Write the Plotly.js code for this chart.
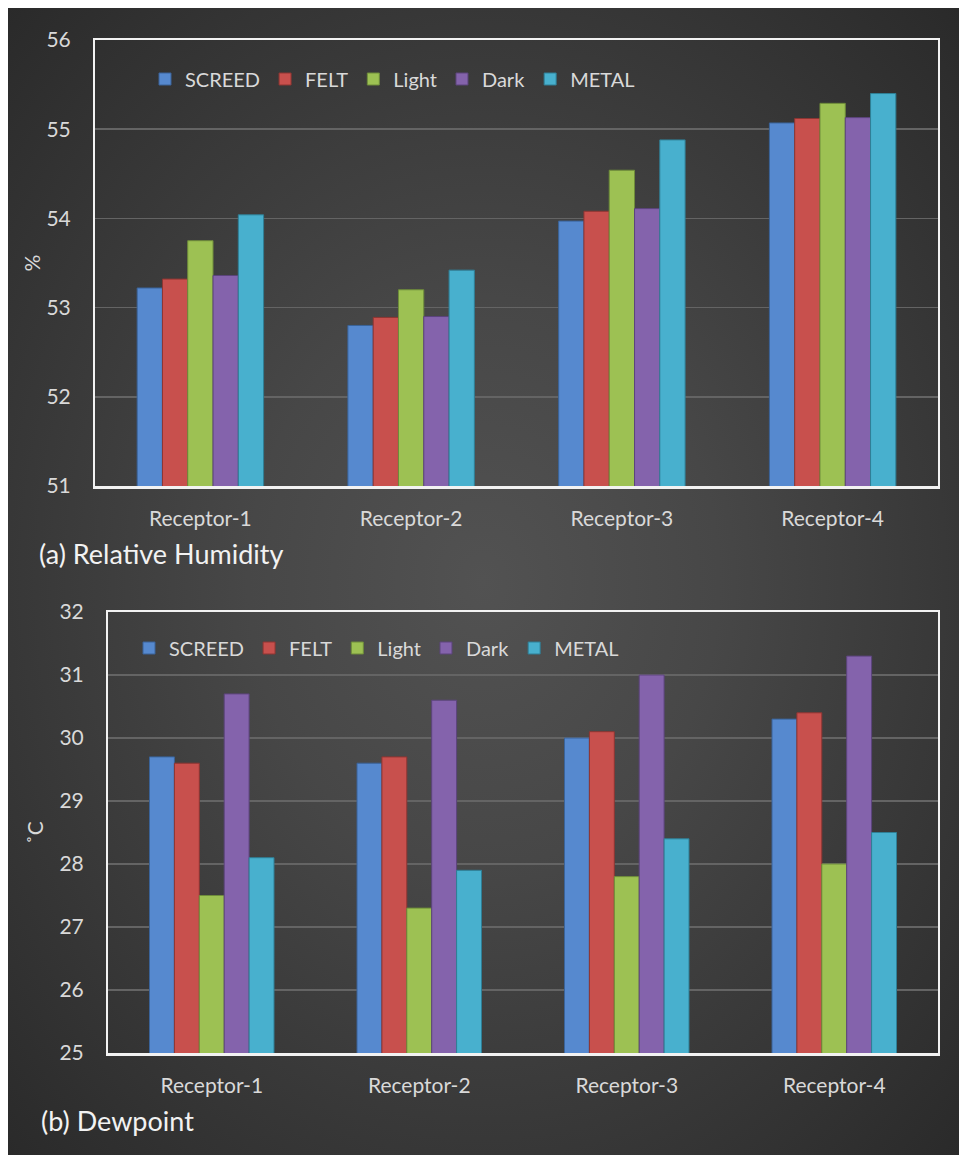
<!DOCTYPE html>
<html>
<head>
<meta charset="utf-8">
<script src="https://cdn.plot.ly/plotly-3.0.1.min.js"></script>
<style>
  html, body { margin: 0; padding: 0; background: #ffffff; }
  #bg { position: absolute; left: 8px; top: 8px; width: 951px; height: 1147px;
        background: radial-gradient(ellipse at 50% 50%, #525252 0%, #474747 35%, #2a2a2a 100%); }
  #chart { position: absolute; left: 0; top: 0; width: 959px; height: 1155px; }
</style>
</head>
<body>
<div id="bg"></div>
<div id="chart"></div>
<script>
// ---- data ----
const categories = ['Receptor-1', 'Receptor-2', 'Receptor-3', 'Receptor-4'];
const seriesNames = ['SCREED', 'FELT', 'Light', 'Dark', 'METAL'];

// (a) Relative Humidity, %
const rhSCREED = [53.22, 52.80, 53.97, 55.07];
const rhFELT   = [53.32, 52.89, 54.08, 55.12];
const rhLight  = [53.75, 53.20, 54.54, 55.29];
const rhDark   = [53.36, 52.90, 54.11, 55.13];
const rhMETAL  = [54.04, 53.42, 54.88, 55.40];

// (b) Dewpoint, °C
const dpSCREED = [29.7, 29.6, 30.0, 30.3];
const dpFELT   = [29.6, 29.7, 30.1, 30.4];
const dpLight  = [27.5, 27.3, 27.8, 28.0];
const dpDark   = [30.7, 30.6, 31.0, 31.3];
const dpMETAL  = [28.1, 27.9, 28.4, 28.5];

const rhTicks = [51, 52, 53, 54, 55, 56];
const dpTicks = [25, 26, 27, 28, 29, 30, 31, 32];

// ---- styles ----
const colors = ['#5689CF', '#C8504D', '#9DC153', '#8463AC', '#48B0CE'];
const edgeColors = ['#3A6399', '#8E3532', '#6E8C3A', '#5C447C', '#2F7F96'];
const FONT = 'Lato, "Open Sans", sans-serif';
const TXT = '#d9d9d9';

const rhSeries = [rhSCREED, rhFELT, rhLight, rhDark, rhMETAL];
const dpSeries = [dpSCREED, dpFELT, dpLight, dpDark, dpMETAL];

const traces = [];
rhSeries.forEach((vals, i) => {
  traces.push({
    type: 'bar', x: categories, y: vals, name: seriesNames[i],
    xaxis: 'x', yaxis: 'y', legend: 'legend',
    marker: { color: colors[i], line: { color: edgeColors[i], width: 1 } },
    hoverinfo: 'x+y+name'
  });
});
dpSeries.forEach((vals, i) => {
  traces.push({
    type: 'bar', x: categories, y: vals, name: seriesNames[i],
    xaxis: 'x2', yaxis: 'y2', legend: 'legend2',
    marker: { color: colors[i], line: { color: edgeColors[i], width: 1 } },
    hoverinfo: 'x+y+name'
  });
});

const W = 959, H = 1155;
const px = v => v / W;
const py = v => 1 - v / H;

const xCommon = {
  type: 'category', showgrid: false, zeroline: false,
  showline: true, linecolor: '#f2f2f2', linewidth: 2.5, mirror: true,
  ticks: '', ticklabelstandoff: 12,
  tickfont: { family: FONT, size: 21, color: TXT }, fixedrange: true
};
const yCommon = {
  showgrid: true, gridcolor: '#646464', gridwidth: 1.5, zeroline: false,
  showline: true, linecolor: '#f2f2f2', linewidth: 2, mirror: true,
  ticks: '', ticklabelstandoff: 18, tickmode: 'array',
  tickfont: { family: FONT, size: 21, color: TXT }, fixedrange: true
};

const layout = {
  width: W, height: H,
  margin: { l: 0, r: 0, t: 0, b: 0 },
  paper_bgcolor: 'rgba(0,0,0,0)', plot_bgcolor: 'rgba(0,0,0,0)',
  barmode: 'group', bargap: 0.4, bargroupgap: 0,
  font: { family: FONT, color: TXT },
  xaxis: Object.assign({}, xCommon, { domain: [px(95), px(938)], anchor: 'y' }),
  yaxis: Object.assign({}, yCommon, {
    domain: [py(486), py(40)], anchor: 'x', range: [51, 56],
    tickvals: rhTicks, ticktext: rhTicks.map(String),
    title: { text: '%', standoff: 0, font: { family: FONT, size: 21, color: TXT } }
  }),
  xaxis2: Object.assign({}, xCommon, { domain: [px(108), px(938)], anchor: 'y2' }),
  yaxis2: Object.assign({}, yCommon, {
    domain: [py(1053), py(612)], anchor: 'x2', range: [25, 32],
    tickvals: dpTicks, ticktext: dpTicks.map(String),
    title: { text: '˚C', standoff: 10, font: { family: FONT, size: 21, color: TXT } }
  }),
  legend: {
    orientation: 'h', x: px(145), y: py(79), xanchor: 'left', yanchor: 'middle',
    bgcolor: 'rgba(0,0,0,0)', font: { family: FONT, size: 20, color: TXT },
    itemwidth: 30, traceorder: 'normal'
  },
  legend2: {
    orientation: 'h', x: px(129), y: py(648), xanchor: 'left', yanchor: 'middle',
    bgcolor: 'rgba(0,0,0,0)', font: { family: FONT, size: 20, color: TXT },
    itemwidth: 30, traceorder: 'normal'
  },
  annotations: [
    { text: '(a) Relative Humidity', xref: 'paper', yref: 'paper',
      x: px(37), y: py(553), xanchor: 'left', yanchor: 'middle', showarrow: false,
      font: { family: FONT, size: 27, color: '#f2f2f2' } },
    { text: '(b) Dewpoint', xref: 'paper', yref: 'paper',
      x: px(39), y: py(1120), xanchor: 'left', yanchor: 'middle', showarrow: false,
      font: { family: FONT, size: 27, color: '#f2f2f2' } }
  ]
};

Plotly.newPlot('chart', traces, layout, { displayModeBar: false, staticPlot: true });
</script>
</body>
</html>
